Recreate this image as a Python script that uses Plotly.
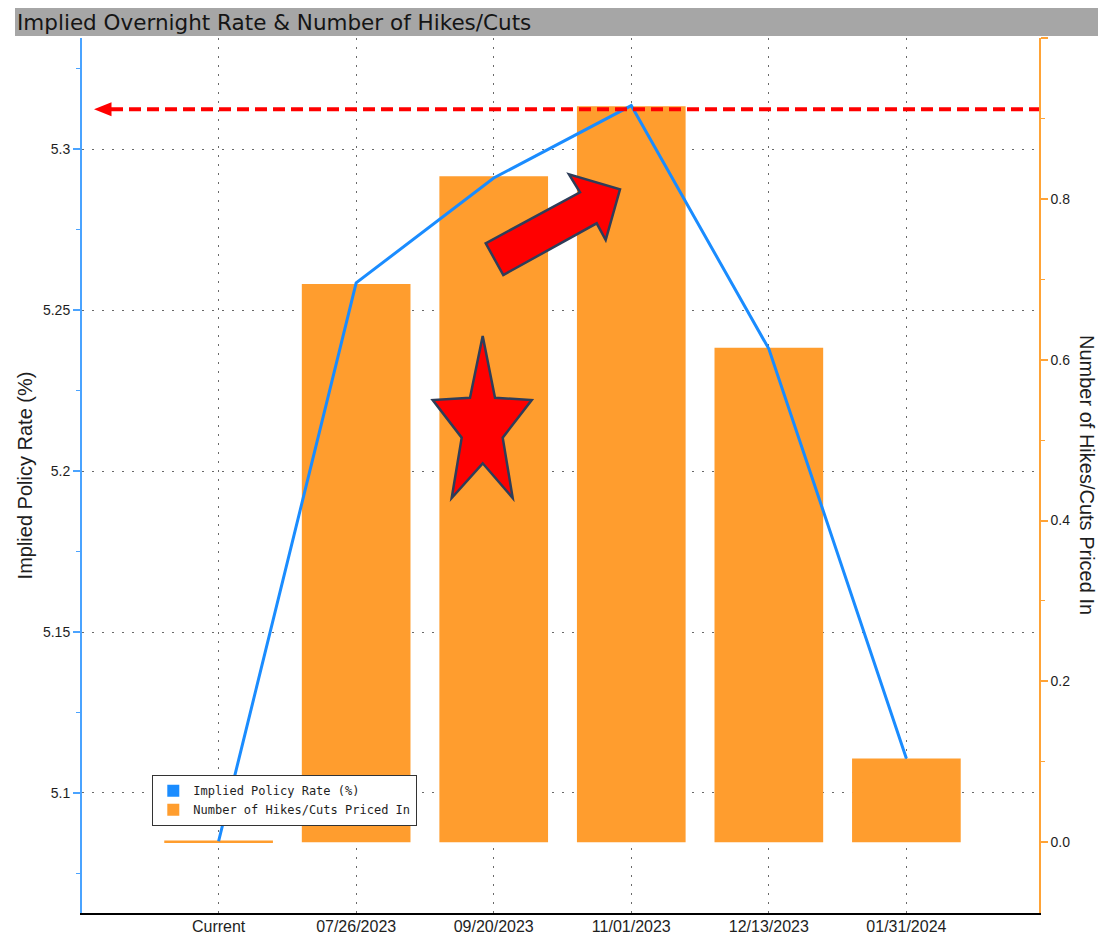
import plotly.graph_objects as go

# ---------------- data ----------------
categories = ["Current", "07/26/2023", "09/20/2023", "11/01/2023", "12/13/2023", "01/31/2024"]
implied_rate = [5.0850, 5.2585, 5.2911, 5.3136, 5.2380, 5.1107]
hikes_priced = [0.002, 0.694, 0.828, 0.915, 0.615, 0.104]

rate_ticks = [5.1, 5.15, 5.2, 5.25, 5.3]
rate_ticklabels = ["5.1", "5.15", "5.2", "5.25", "5.3"]
hike_ticks = [0.0, 0.2, 0.4, 0.6, 0.8, 1.0]
hike_ticklabels = ["0.0", "0.2", "0.4", "0.6", "0.8", ""]

title_text = "Implied Overnight Rate & Number of Hikes/Cuts"
rate_title = "Implied Policy Rate (%)"
hike_title = "Number of Hikes/Cuts Priced In"

# ---------------- styling ----------------
BLUE = "#1a8cff"
BLUE_AXIS = "#4aa3ff"
ORANGE = "#ff9d2e"
ORANGE_AXIS = "#ffa336"
RED = "#ff0000"
OUTLINE = "#2e3d59"
TEXT = "#1e1e1e"
GRID = "#6a6a6a"
TICKFONT = "Liberation Sans, Arial, sans-serif"

PAGE_OFF = 8                                 # default page body margin
W, H = 1106 - PAGE_OFF, 935 - PAGE_OFF       # figure fits the window
L, R, T, B = 82, 1039, 38, 913               # plot area in page pixels


def paper(px, py):
    return ((px - L) / (R - L), (B - py) / (B - T))


def path_from(points):
    pts = [paper(x, y) for x, y in points]
    return "M " + " L ".join(f"{x:.5f},{y:.5f}" for x, y in pts) + " Z"


# decorative drawings (pixel geometry of the hand-drawn call-outs)
star_pts = [(482.7, 336), (495, 397.7), (531.7, 400), (502.7, 437.7), (512.7, 498),
            (482.7, 463.3), (451.7, 498), (461.7, 437.7), (432.7, 400), (470, 397.7)]
arrow_pts = [(485.7, 243.3), (580, 192.3), (569, 174.3), (620, 189.3),
             (605.7, 240), (596.7, 223.3), (503.3, 275)]
dash_y_px = 109.3
head_pts = [(94, dash_y_px), (111.5, dash_y_px - 7), (111.5, dash_y_px + 7)]

fig = go.Figure()

# bars on the base axis (drawn below), line on the overlay axis (drawn above)
fig.add_trace(go.Bar(
    x=categories, y=hikes_priced, yaxis="y", width=0.79,
    marker=dict(color=ORANGE, line=dict(width=0)),
    name=hike_title, showlegend=False,
))
fig.add_trace(go.Scatter(
    x=categories, y=implied_rate, yaxis="y2", mode="lines",
    line=dict(color=BLUE, width=3),
    name=rate_title, showlegend=False,
))
# legend entries with square swatches
fig.add_trace(go.Scatter(x=[None], y=[None], yaxis="y2", mode="markers",
                         marker=dict(symbol="square", size=13, color=BLUE),
                         name=rate_title))
fig.add_trace(go.Scatter(x=[None], y=[None], yaxis="y2", mode="markers",
                         marker=dict(symbol="square", size=13, color=ORANGE),
                         name=hike_title))

fig.update_layout(
    width=W, height=H,
    margin=dict(l=L - PAGE_OFF, r=W - (R - PAGE_OFF), t=T - PAGE_OFF, b=H - (B - PAGE_OFF),
                autoexpand=False),
    paper_bgcolor="white", plot_bgcolor="white",
    font=dict(family=TICKFONT, color=TEXT),
    xaxis=dict(
        type="category", categoryorder="array", categoryarray=categories,
        range=[-0.993, 5.964], automargin=False,
        showgrid=True, gridcolor=GRID, gridwidth=1, griddash="2px,7px",
        showline=True, linecolor="black", linewidth=2,
        ticks="", ticklabelstandoff=-2,
        tickfont=dict(family=TICKFONT, size=16, color=TEXT),
        zeroline=False, fixedrange=True,
    ),
    yaxis=dict(
        side="right", range=[-0.088, 1.0], automargin=False,
        tickmode="array", tickvals=hike_ticks, ticktext=hike_ticklabels,
        showgrid=False, zeroline=False,
        showline=True, linecolor=ORANGE_AXIS, linewidth=1.5,
        ticks="outside", ticklen=7, tickwidth=2, tickcolor=ORANGE_AXIS,
        minor=dict(tickmode="linear", tick0=0.1, dtick=0.2, ticks="outside",
                   ticklen=4, tickwidth=1, tickcolor=ORANGE_AXIS, showgrid=False),
        tickfont=dict(family=TICKFONT, size=14, color=TEXT),
    ),
    yaxis2=dict(
        overlaying="y", side="left", anchor="x", range=[5.0627, 5.3346], automargin=False,
        tickmode="array", tickvals=rate_ticks, ticktext=rate_ticklabels,
        showgrid=True, gridcolor=GRID, gridwidth=1, griddash="2px,8px",
        zeroline=False,
        showline=True, linecolor=BLUE_AXIS, linewidth=2,
        ticks="outside", ticklen=7, tickwidth=2, tickcolor=BLUE_AXIS,
        minor=dict(tickmode="linear", tick0=5.075, dtick=0.05, ticks="outside",
                   ticklen=4, tickwidth=1, tickcolor=BLUE_AXIS, showgrid=False),
        tickfont=dict(family=TICKFONT, size=14, color=TEXT),
        title=dict(text=rate_title, font=dict(family=TICKFONT, size=20, color=TEXT),
                   standoff=5),
    ),
    legend=dict(
        x=paper(152, 775)[0], y=paper(152, 775)[1], xanchor="left", yanchor="top",
        bgcolor="white", bordercolor="#333333", borderwidth=1.3,
        font=dict(family="DejaVu Sans Mono, monospace", size=12, color=TEXT),
        traceorder="normal", itemsizing="constant", tracegroupgap=0,
    ),
)

shapes = []
# title bar
tx0, ty0 = paper(15, 36)
tx1, ty1 = paper(1106, 8)
shapes.append(dict(type="rect", xref="paper", yref="paper", x0=tx0, y0=ty0, x1=tx1 + 0.02, y1=ty1,
                   fillcolor="#a6a6a6", line=dict(width=0), layer="above"))
# red dashed level with arrowhead
dx0, dy = paper(111, dash_y_px)
dx1, _ = paper(1039, dash_y_px)
shapes.append(dict(type="line", xref="paper", yref="paper", x0=dx0, x1=dx1, y0=dy, y1=dy,
                   line=dict(color=RED, width=4, dash="12px,6px"), layer="above"))
shapes.append(dict(type="path", xref="paper", yref="paper", path=path_from(head_pts),
                   fillcolor=RED, line=dict(width=0), layer="above"))
# fat arrow
shapes.append(dict(type="path", xref="paper", yref="paper", path=path_from(arrow_pts),
                   fillcolor=RED, line=dict(color=OUTLINE, width=2.5), layer="above"))
# star
shapes.append(dict(type="path", xref="paper", yref="paper", path=path_from(star_pts),
                   fillcolor=RED, line=dict(color=OUTLINE, width=2.5), layer="above"))
fig.update_layout(shapes=shapes)

annotations = []
ax, ay = paper(15, 22)
annotations.append(dict(text=title_text, xref="paper", yref="paper", x=ax, y=ay,
                        xanchor="left", yanchor="middle", showarrow=False,
                        font=dict(family="DejaVu Sans, sans-serif", size=21.5, color="#151515")))
rx, ry = paper(1087, 475)
annotations.append(dict(text=hike_title, xref="paper", yref="paper", x=rx, y=ry,
                        xanchor="center", yanchor="middle", textangle=90, showarrow=False,
                        font=dict(family=TICKFONT, size=20, color=TEXT)))
fig.update_layout(annotations=annotations)

fig.write_html(
    "out.html",
    post_script="document.documentElement.style.overflow='hidden';"
                "document.body.style.overflow='hidden';",
)
